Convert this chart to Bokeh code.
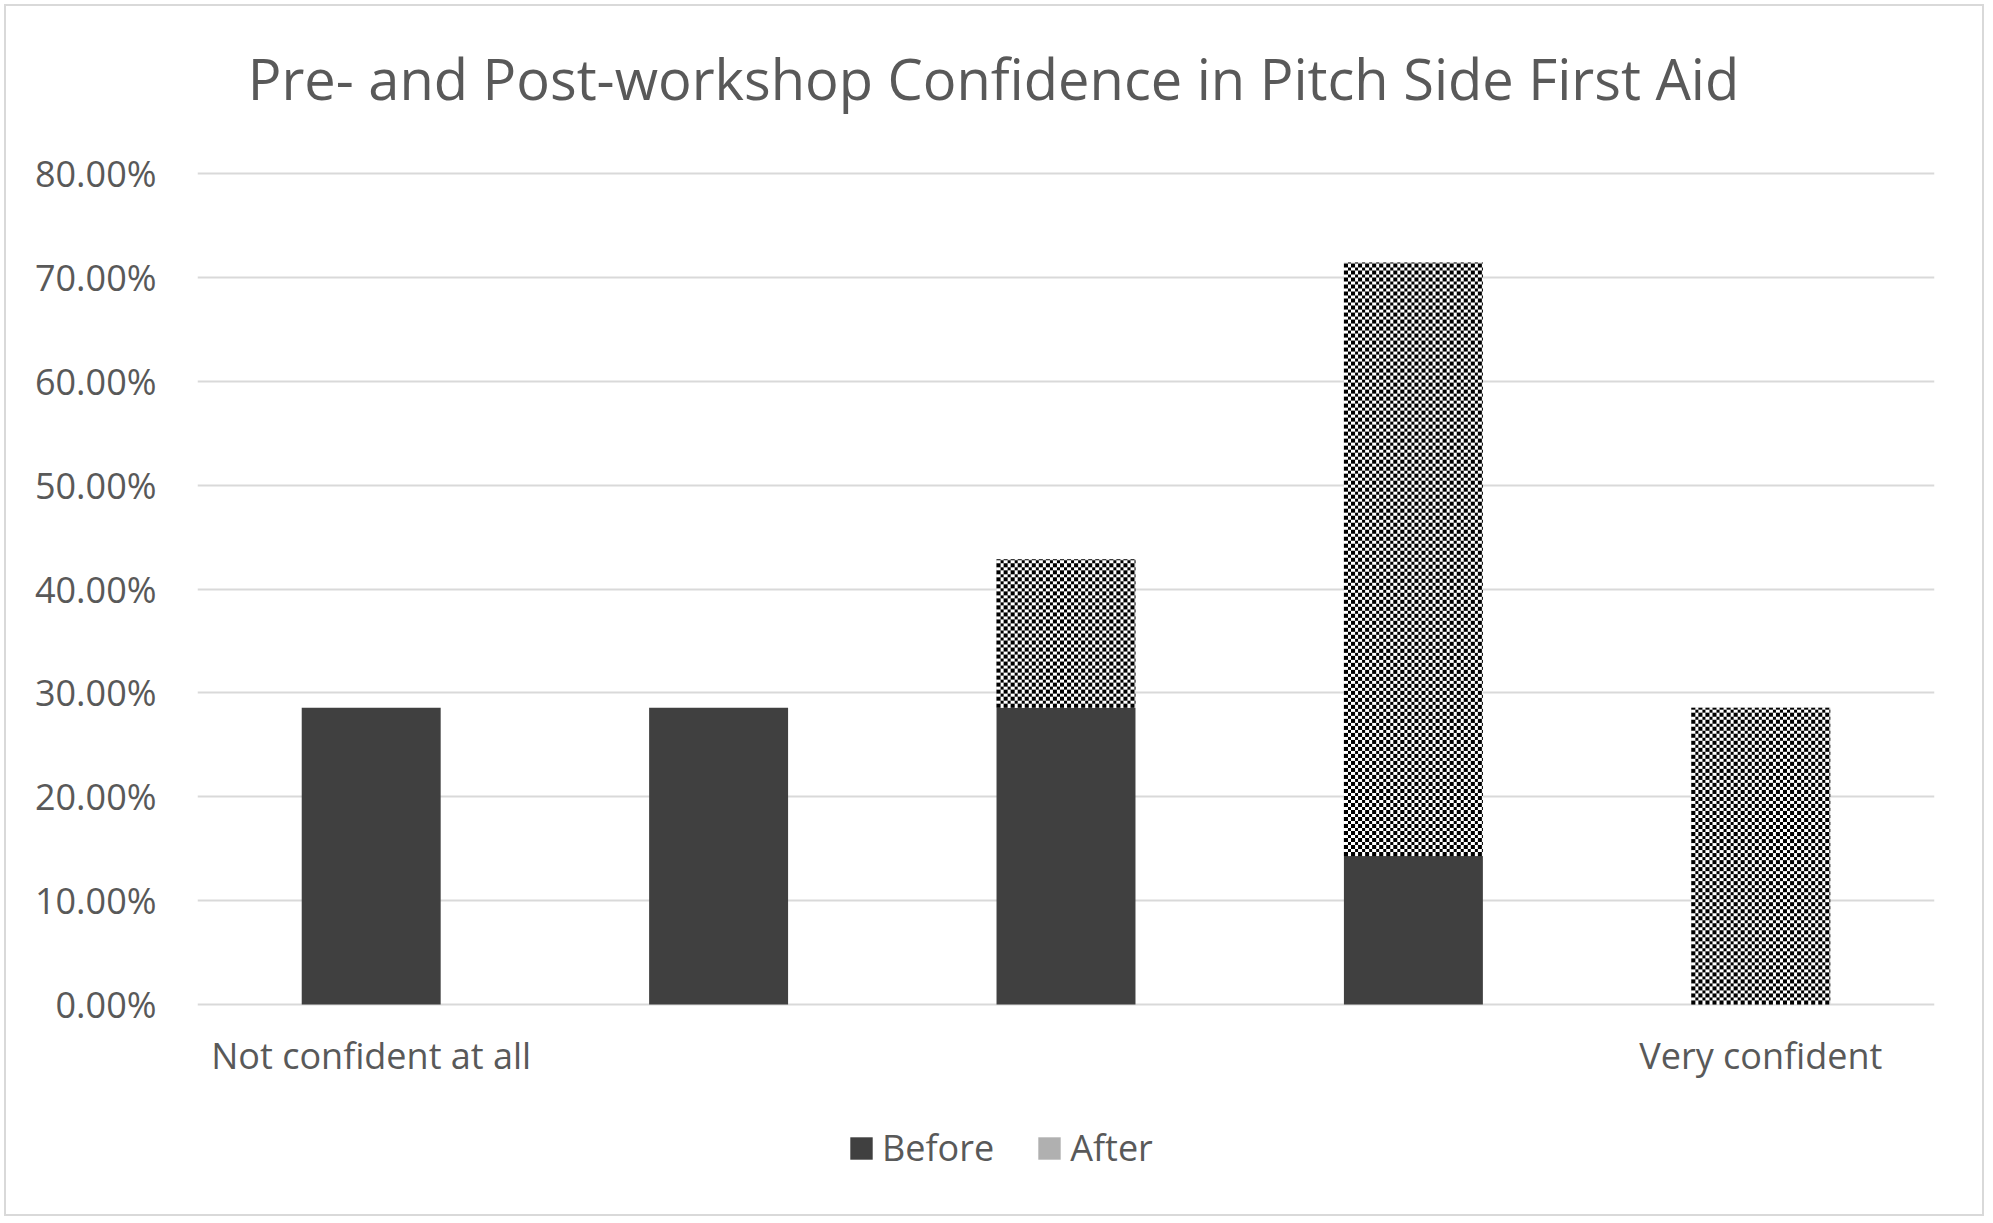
import numpy as np
from bokeh.plotting import figure
from bokeh.models import (ColumnDataSource, FixedTicker, NumeralTickFormatter, Legend,
                          LegendItem, Label, LabelSet)
from bokeh.core.properties import value
from bokeh.embed import file_html
from bokeh.resources import INLINE

# ---------------- data ----------------
categories = ["Not confident at all", "", "", "", "Very confident"]
before = [0.2857, 0.2857, 0.2857, 0.1429, 0.0]
after = [0.0, 0.0, 0.1429, 0.5714, 0.2857]
series_names = ["Before", "After"]
y_ticks = [0.0, 0.1, 0.2, 0.3, 0.4, 0.5, 0.6, 0.7, 0.8]
title_text = "Pre- and Post-workshop Confidence in Pitch Side First Aid"

TEXT = "#595959"
FONT = "Open Sans"
BEFORE_COLOR = "#404040"
AFTER_LEGEND_COLOR = "#b0b0b0"
GRID = "#d9d9d9"

# ---------------- geometry (page pixels) ----------------
ORIGIN = 6                      # figure offset inside the page
W, H = 1976, 1208
FRAME_L, FRAME_R = 197, 1934
FRAME_T, FRAME_B = 20, 1200
Y0_PX, Y80_PX = 1004, 173       # rows of the 0% and 80% gridlines
PX_PER_Y = (Y0_PX - Y80_PX) / 0.8
n = len(categories)
PX_PER_X = (FRAME_R - FRAME_L) / n
bar_w = 0.4

y_start = -(FRAME_B - Y0_PX) / PX_PER_Y
y_end = 0.8 + (Y80_PX - FRAME_T) / PX_PER_Y

p = figure(width=W, height=H, output_backend="svg", toolbar_location=None,
           x_range=(0.5, n + 0.5), y_range=(y_start, y_end),
           min_border_left=FRAME_L - ORIGIN, min_border_right=ORIGIN + W - FRAME_R,
           min_border_top=FRAME_T - ORIGIN, min_border_bottom=ORIGIN + H - FRAME_B,
           background_fill_color="white", border_fill_color="white")
p.margin = (ORIGIN, 0, 0, ORIGIN)
p.styles = {"box-shadow": "0 0 0 2px #d9d9d9"}
p.outline_line_color = None

xs = np.arange(1, n + 1)
b = np.array(before)
a = np.array(after)
src = ColumnDataSource(dict(x=xs, b0=np.zeros_like(b), b1=b, a0=b, a1=b + a))

# Before bars (solid)
r_before = p.vbar(x="x", bottom="b0", top="b1", width=bar_w, source=src,
                  fill_color=BEFORE_COLOR, line_color=None)
# After bars, stacked on Before (light gray, covered by the checkerboard fill below)
r_after = p.vbar(x="x", bottom="a0", top="a1", width=bar_w, source=src,
                 fill_color=AFTER_LEGEND_COLOR, line_color=None)

# Checkerboard pattern fill for the After segments
def checker(rows, cols, cell=3.5):
    yy, xx = np.mgrid[0:rows, 0:cols]
    black = (np.floor(xx / cell).astype(int) + np.floor(yy / cell).astype(int)) % 2 == 0
    img = np.empty((rows, cols), dtype=np.uint32)
    view = img.view(dtype=np.uint8).reshape((rows, cols, 4))
    for ch in range(3):
        view[..., ch] = np.where(black, 0, 255)
    view[..., 3] = 255
    return img

imgs, ix, iy, idw, idh = [], [], [], [], []
for xi, bi, ai in zip(xs, b, a):
    if ai <= 0:
        continue
    cols = int(round(bar_w * PX_PER_X))
    rows = int(round(ai * PX_PER_Y))
    imgs.append(checker(rows, cols))
    ix.append(xi - bar_w / 2)
    iy.append(bi)
    idw.append(bar_w)
    idh.append(ai)
p.image_rgba(image=imgs, x=ix, y=iy, dw=idw, dh=idh)

# ---------------- y axis / grid ----------------
yaxis = p.yaxis[0]
yaxis.ticker = FixedTicker(ticks=y_ticks)
yaxis.formatter = NumeralTickFormatter(format="0.00%")
yaxis.axis_line_color = None
yaxis.major_tick_line_color = None
yaxis.minor_tick_line_color = None
yaxis.major_tick_out = 0
yaxis.major_tick_in = 0
yaxis.major_label_standoff = 41
yaxis.major_label_text_font = FONT
yaxis.major_label_text_font_size = "36px"
yaxis.major_label_text_color = TEXT

p.xaxis.visible = False
p.xgrid.grid_line_color = None
p.ygrid.ticker = FixedTicker(ticks=y_ticks)
p.ygrid.grid_line_color = GRID
p.ygrid.grid_line_width = 2

# ---------------- category labels (first and last only) ----------------
lab_y = -(1068 - Y0_PX) / PX_PER_Y
lab_src = ColumnDataSource(dict(x=[int(x) for x, c in zip(xs, categories) if c],
                                y=[lab_y for c in categories if c],
                                text=[c for c in categories if c]))
p.add_layout(LabelSet(x="x", y="y", text="text", source=lab_src,
                      text_align="center", text_baseline="alphabetic",
                      text_font=value(FONT), text_font_size=value("36px"),
                      text_color=TEXT))

# ---------------- title ----------------
p.add_layout(Label(x=0.5 + (993 - FRAME_L) / PX_PER_X, y=0.8 + (Y80_PX - 77) / PX_PER_Y,
                   text=title_text, text_align="center", text_baseline="alphabetic",
                   text_font=FONT, text_font_size="56px", text_color=TEXT))

# ---------------- legend (solid swatches) ----------------
legend = Legend(items=[LegendItem(label=series_names[0], renderers=[r_before]),
                       LegendItem(label=series_names[1], renderers=[r_after])],
                orientation="horizontal", location=(847 - FRAME_L, FRAME_B - 1172),
                glyph_width=28, glyph_height=28, label_standoff=7, spacing=41,
                padding=0, margin=0, border_line_color=None,
                background_fill_alpha=0,
                label_text_font=FONT, label_text_font_size="36px", label_text_color=TEXT)
p.add_layout(legend, "center")

open("out.html", "w").write(file_html(p, INLINE))
